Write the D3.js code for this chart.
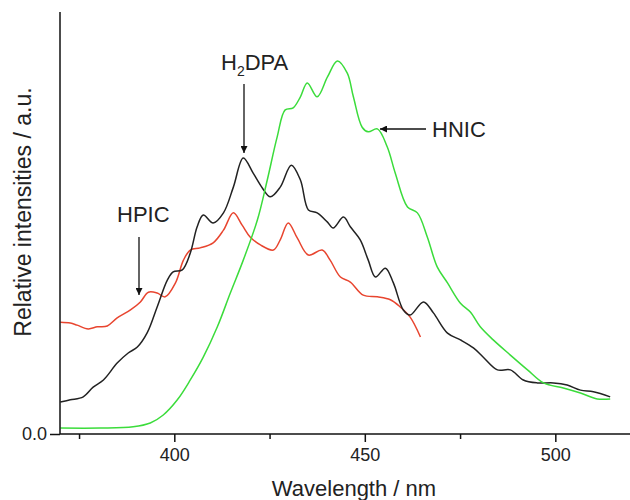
<!DOCTYPE html>
<html>
<head>
<meta charset="utf-8">
<script src="https://cdn.jsdelivr.net/npm/d3@7"></script>
<style>
  html, body { margin: 0; padding: 0; background: #fff; }
  svg { display: block; font-family: "Liberation Sans", Arial, sans-serif; }
</style>
</head>
<body>
<svg id="chart" width="630" height="500"></svg>
<script>
// ---- data (wavelength in nm, relative intensity in a.u.) ----
const hpicWavelength = [370.1,372.7,374.5,377.4,379.8,382.4,385.0,388.5,391.1,393.2,395.5,397.6,400.3,402.4,404.2,406.8,410.2,412.9,415.5,417.8,419.9,422.6,426.0,427.8,429.9,432.3,435.2,438.8,440.9,443.6,446.2,449.6,453.3,456.7,459.3,461.9,464.6];
const hpicIntensity  = [26.5,26.3,25.8,24.9,25.4,25.6,27.5,29.4,31.3,33.6,33.4,32.5,35.8,41.2,43.6,44.1,45.3,48.3,52.4,49.5,46.7,44.8,43.6,46.0,50.0,46.4,42.4,43.6,41.2,37.2,36.0,32.9,32.5,31.8,30.1,27.7,23.0];

const h2dpaWavelength = [370.1,372.7,376.1,378.7,381.4,385.0,387.9,390.3,392.9,395.5,398.2,399.7,402.1,404.2,406.0,407.6,410.2,412.9,415.5,418.1,420.7,423.1,425.2,427.8,430.7,433.1,435.2,437.5,440.2,441.7,444.4,446.2,448.8,450.9,452.8,455.4,457.5,460.1,461.9,465.4,468.0,471.7,475.1,478.5,481.1,484.8,488.2,491.6,495.3,499.5,503.1,506.6,510.0,514.4];
const h2dpaIntensity  = [7.6,8.1,8.8,11.1,12.8,16.8,19.2,20.6,24.0,30.1,36.5,38.4,38.9,42.9,49.1,51.9,50.0,52.4,58.5,65.4,61.8,58.3,56.2,58.5,63.7,60.2,53.1,52.4,50.2,48.8,51.4,49.1,46.0,41.2,37.2,39.3,35.8,29.4,28.2,31.3,28.7,23.9,22.3,20.4,18.2,15.2,15.2,12.8,12.1,12.1,11.6,10.4,10.0,8.8];

const hnicWavelength = [370.1,380.6,389.2,393.7,397.1,400.8,404.2,407.6,411.3,414.7,418.1,421.8,424.4,427.0,429.1,431.2,433.1,434.9,437.5,440.2,442.8,445.4,447.0,449.3,450.9,453.3,455.9,458.0,461.2,463.8,466.4,469.0,471.7,475.1,477.7,480.3,483.7,488.2,492.7,496.9,502.1,506.6,511.0,514.4];
const hnicIntensity  = [1.4,1.4,1.7,2.6,4.5,8.1,12.8,18.2,25.4,33.4,41.2,50.7,60.2,70.4,76.8,77.3,79.9,83.2,79.9,84.6,88.4,85.5,79.9,72.7,71.6,72.3,68.0,61.8,53.8,52.4,46.7,39.6,35.8,31.0,28.9,25.4,22.3,18.7,15.2,12.1,10.9,9.7,8.3,8.3];

const xMajorTicks = [400, 450, 500];
const xMinorTicks = [375, 425, 475];
const yTicks = [0];

const seriesNames = ["HPIC", "H2DPA", "HNIC"];
const seriesColors = ["#e8452f", "#222222", "#3bdc3b"];

// ---- layout ----
const svg = d3.select("#chart");
const x = d3.scaleLinear().domain([370, 519.6]).range([60, 630]);
const y = d3.scaleLinear().domain([0, 100]).range([434, 12]);

const series = [
  { name: seriesNames[0], color: seriesColors[0], xs: hpicWavelength, ys: hpicIntensity },
  { name: seriesNames[1], color: seriesColors[1], xs: h2dpaWavelength, ys: h2dpaIntensity },
  { name: seriesNames[2], color: seriesColors[2], xs: hnicWavelength, ys: hnicIntensity }
];

const line = d3.line()
  .x(d => x(d[0]))
  .y(d => y(d[1]))
  .curve(d3.curveCatmullRom.alpha(0.5));

series.forEach(s => {
  const pts = s.xs.map((v, i) => [v, s.ys[i]]);
  svg.append("path")
    .attr("d", line(pts))
    .attr("fill", "none")
    .attr("stroke", s.color)
    .attr("stroke-width", 1.5);
});

// ---- axes ----
const xAxis = d3.axisBottom(x).tickValues(xMajorTicks).tickSize(8).tickPadding(6).tickFormat(d3.format("d"));
const gx = svg.append("g").attr("transform", `translate(0,${y(0)})`).call(xAxis);
gx.select(".domain").attr("stroke", "#111").attr("stroke-width", 1.5).attr("d", `M60,0H630`);
gx.selectAll(".tick line").attr("stroke", "#111").attr("stroke-width", 1.5);
gx.selectAll(".tick text").attr("font-size", 18).attr("fill", "#222").attr("font-family", "Liberation Sans, Arial, sans-serif");

const xMinor = d3.axisBottom(x).tickValues(xMinorTicks).tickSize(5).tickFormat("");
const gxm = svg.append("g").attr("transform", `translate(0,${y(0)})`).call(xMinor);
gxm.select(".domain").remove();
gxm.selectAll(".tick line").attr("stroke", "#111").attr("stroke-width", 1.5);

const yAxis = d3.axisLeft(y).tickValues(yTicks).tickSize(10).tickPadding(3).tickFormat(d3.format(".1f"));
const gy = svg.append("g").attr("transform", `translate(60,0)`).call(yAxis);
gy.select(".domain").attr("stroke", "#111").attr("stroke-width", 1.5).attr("d", `M0,${y(100)}V${y(0)}`);
gy.selectAll(".tick line").attr("stroke", "#111").attr("stroke-width", 1.5);
gy.selectAll(".tick text").attr("font-size", 18).attr("fill", "#222").attr("font-family", "Liberation Sans, Arial, sans-serif");

// ---- axis titles ----
svg.append("text")
  .attr("x", 354).attr("y", 496)
  .attr("text-anchor", "middle")
  .attr("font-size", 22).attr("fill", "#222")
  .text("Wavelength / nm");

svg.append("text")
  .attr("transform", "translate(31,212) rotate(-90)")
  .attr("text-anchor", "middle")
  .attr("font-size", 23).attr("fill", "#222")
  .text("Relative intensities / a.u.");

// ---- annotations ----
const defs = svg.append("defs");
defs.append("marker")
  .attr("id", "arrow")
  .attr("viewBox", "0 0 10 10")
  .attr("refX", 10).attr("refY", 5)
  .attr("markerWidth", 7).attr("markerHeight", 7)
  .attr("markerUnits", "userSpaceOnUse")
  .attr("orient", "auto")
  .append("path").attr("d", "M0,0L10,5L0,10Z").attr("fill", "#111");

function arrow(x1, y1, x2, y2) {
  svg.append("line")
    .attr("x1", x1).attr("y1", y1).attr("x2", x2).attr("y2", y2)
    .attr("stroke", "#111").attr("stroke-width", 1.3)
    .attr("marker-end", "url(#arrow)");
}

// H2DPA
const tH = svg.append("text").attr("x", 221).attr("y", 70).attr("font-size", 22).attr("fill", "#222");
tH.append("tspan").text("H");
tH.append("tspan").attr("font-size", 14).attr("dy", 6).text("2");
tH.append("tspan").attr("dy", -6).text("DPA");
arrow(244, 84, 244, 153);

// HPIC
svg.append("text").attr("x", 117).attr("y", 222).attr("font-size", 22).attr("fill", "#222").text("HPIC");
arrow(139, 237, 139, 295);

// HNIC
svg.append("text").attr("x", 432).attr("y", 137).attr("font-size", 22).attr("fill", "#222").text("HNIC");
arrow(426, 129, 380, 129);
</script>
</body>
</html>
